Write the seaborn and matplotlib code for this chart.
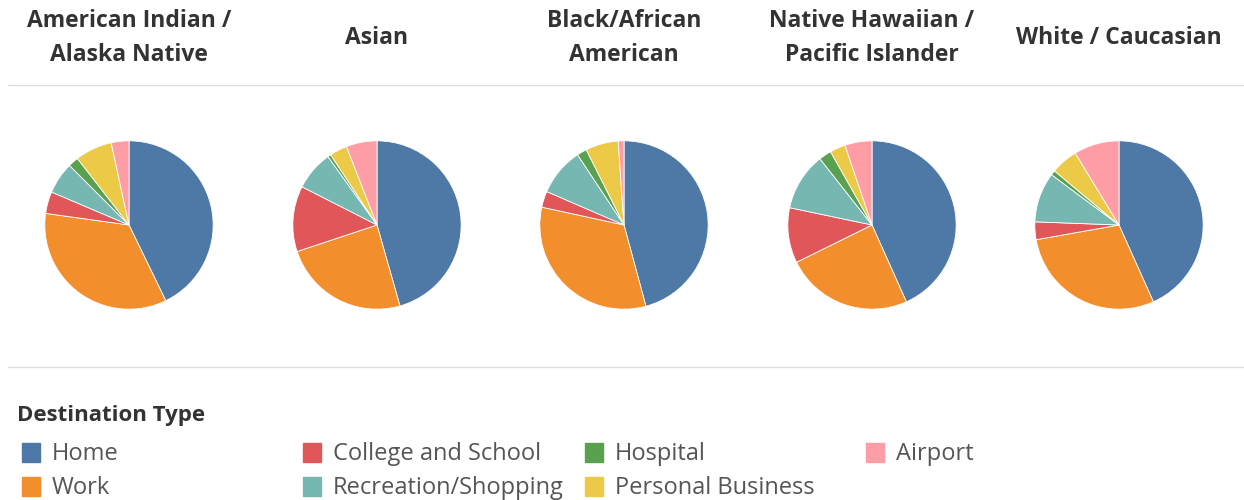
import matplotlib
matplotlib.use("Agg")
import matplotlib.pyplot as plt
import seaborn as sns
from matplotlib.lines import Line2D
from matplotlib.patches import Rectangle

# races (panel titles) and destination categories in clockwise order
races = ["American Indian /\nAlaska Native", "Asian", "Black/African\nAmerican",
         "Native Hawaiian /\nPacific Islander", "White / Caucasian"]
destinations = ["Home", "Work", "College and School", "Recreation/Shopping",
                "Hospital", "Personal Business", "Airport"]

# share of trips (%) by destination for each race
am_indian = [42.8, 34.4, 4.2, 6.1, 2.0, 7.1, 3.4]
asian = [45.6, 24.3, 12.6, 7.6, 0.6, 3.4, 5.9]
black = [45.8, 32.6, 3.1, 9.2, 1.9, 6.3, 1.1]
hawaiian = [43.3, 24.4, 10.6, 11.1, 2.4, 3.0, 5.2]
white = [43.3, 28.9, 3.4, 9.6, 0.9, 5.2, 8.7]
shares = [am_indian, asian, black, hawaiian, white]

# legend layout: (column, row) for each destination
legend_slots = [(0, 0), (0, 1), (1, 0), (1, 1), (2, 0), (2, 1), (3, 0)]

sns.set_theme(style="white")
plt.rcParams["font.family"] = ["Open Sans", "DejaVu Sans"]
colors = dict(zip(destinations, ["#4e79a7", "#f28e2b", "#e15759", "#76b7b2",
                                 "#59a14f", "#edc948", "#ff9da7"]))

W, H = 1244, 500
fig = plt.figure(figsize=(W / 100, H / 100), dpi=100)

centers_x = [129, 377, 624, 872, 1119]
r = 85
cy = 225
for i, (race, vals) in enumerate(zip(races, shares)):
    cx = centers_x[i]
    ax = fig.add_axes([(cx - r) / W, 1 - (cy + r) / H, 2 * r / W, 2 * r / H])
    ax.pie(vals, colors=[colors[d] for d in destinations], startangle=90,
           counterclock=False, radius=1,
           wedgeprops=dict(linewidth=0.6, edgecolor="white"))
    ax.set_xlim(-1.01, 1.01)
    ax.set_ylim(-1.01, 1.01)
    ax.set_aspect("equal")
    ax.axis("off")
    fig.text(cx / W, 1 - 38 / H, race, ha="center", va="center",
             fontsize=16.5, fontweight="bold", color="#333333",
             linespacing=1.6, multialignment="center")

# separator lines
for y in [85, 367]:
    fig.add_artist(Line2D([8 / W, 1], [1 - y / H] * 2, color="#dddddd", lw=1.0))

# legend
fig.text(17 / W, 1 - 415 / H, "Destination Type", ha="left", va="center",
         fontsize=16, fontweight="bold", color="#333333")
col_x = [22, 303, 585, 866]
row_y = [452, 486]
for d, (c, rw) in zip(destinations, legend_slots):
    x0 = col_x[c]
    y0 = row_y[rw]
    fig.add_artist(Rectangle((x0 / W, 1 - (y0 + 10) / H), 18 / W, 19 / H,
                             transform=fig.transFigure, color=colors[d]))
    fig.text((x0 + 30) / W, 1 - (y0 + 2) / H, d, ha="left", va="center",
             fontsize=17, color="#555555")

fig.savefig("out.png", dpi=100)
